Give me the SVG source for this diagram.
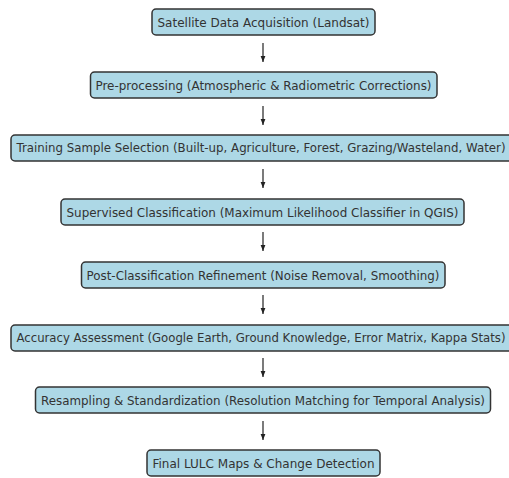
<svg xmlns="http://www.w3.org/2000/svg" width="509" height="478" viewBox="0 0 509 478">
<defs>
<style>
.b{fill:#add8e6;stroke:#333;stroke-width:1.5}
.t{font-family:"DejaVu Sans",sans-serif;font-size:12.5px;fill:#333;text-anchor:middle;dominant-baseline:central}
.s{font-size:11.8px}
.c{stroke:#222;stroke-width:1.2;fill:none}
</style>
<marker id="ah" viewBox="0 0 10 10" refX="10" refY="5" markerWidth="6" markerHeight="6" orient="auto" markerUnits="userSpaceOnUse">
<path d="M0,1 L10,5 L0,9 Z" fill="#222"/>
</marker>
</defs>
<rect width="509" height="478" fill="#fff"/>
<g id="connectors">
<line class="c" x1="263" y1="43" x2="263" y2="62" marker-end="url(#ah)"/>
<line class="c" x1="263" y1="106" x2="263" y2="125" marker-end="url(#ah)"/>
<line class="c" x1="263" y1="169" x2="263" y2="188" marker-end="url(#ah)"/>
<line class="c" x1="263" y1="232" x2="263" y2="251" marker-end="url(#ah)"/>
<line class="c" x1="263" y1="295" x2="263" y2="314" marker-end="url(#ah)"/>
<line class="c" x1="263" y1="358" x2="263" y2="377" marker-end="url(#ah)"/>
<line class="c" x1="263" y1="421" x2="263" y2="440" marker-end="url(#ah)"/>
</g>
<g id="n1"><rect class="b" x="152" y="9" width="223" height="26" rx="4"/><text class="t" x="263.5" y="22" textLength="212" lengthAdjust="spacingAndGlyphs">Satellite Data Acquisition (Landsat)</text></g>
<g id="n2"><rect class="b" x="90.5" y="72" width="346.5" height="26" rx="4"/><text class="t" x="263.5" y="85" textLength="336" lengthAdjust="spacingAndGlyphs">Pre-processing (Atmospheric &amp; Radiometric Corrections)</text></g>
<g id="n3"><rect class="b" x="11" y="135" width="506" height="26" rx="4"/><text class="t s" x="261" y="148" textLength="489" lengthAdjust="spacingAndGlyphs">Training Sample Selection (Built-up, Agriculture, Forest, Grazing/Wasteland, Water)</text></g>
<g id="n4"><rect class="b" x="61" y="199" width="403" height="26" rx="4"/><text class="t" x="262.5" y="212" textLength="392" lengthAdjust="spacingAndGlyphs">Supervised Classification (Maximum Likelihood Classifier in QGIS)</text></g>
<g id="n5"><rect class="b" x="81.5" y="262" width="363.5" height="26" rx="4"/><text class="t" x="263" y="275" textLength="353" lengthAdjust="spacingAndGlyphs">Post-Classification Refinement (Noise Removal, Smoothing)</text></g>
<g id="n6"><rect class="b" x="11" y="325" width="506" height="26" rx="4"/><text class="t s" x="261" y="338" textLength="489" lengthAdjust="spacingAndGlyphs">Accuracy Assessment (Google Earth, Ground Knowledge, Error Matrix, Kappa Stats)</text></g>
<g id="n7"><rect class="b" x="35.5" y="387" width="455" height="26" rx="4"/><text class="t" x="263" y="400" textLength="444" lengthAdjust="spacingAndGlyphs">Resampling &amp; Standardization (Resolution Matching for Temporal Analysis)</text></g>
<g id="n8"><rect class="b" x="147" y="450" width="233" height="26" rx="4"/><text class="t" x="263.5" y="463" textLength="222" lengthAdjust="spacingAndGlyphs">Final LULC Maps &amp; Change Detection</text></g>
</svg>
